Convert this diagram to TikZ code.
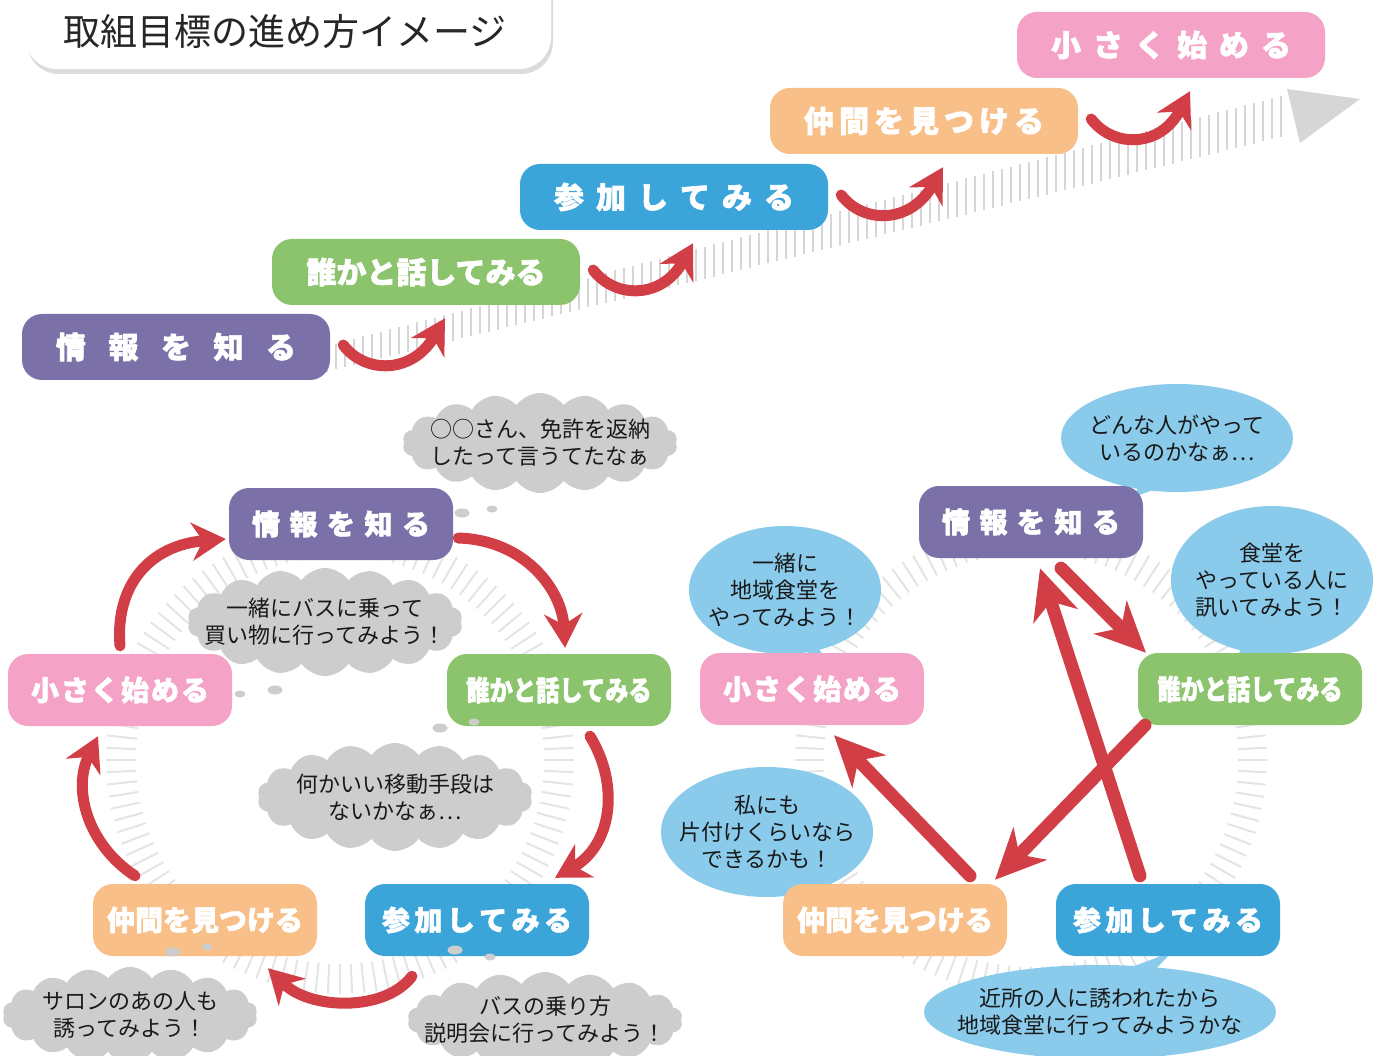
\documentclass[tikz,border=0pt]{standalone}
\usepackage{fontspec}
\usepackage{graphicx}
\setmainfont{Noto Sans CJK JP}[BoldFeatures={FakeBold=2}]
\usetikzlibrary{arrows.meta,shapes.geometric,shapes.symbols,calc,shadows}
\definecolor{cpurple}{HTML}{7B70A8}
\definecolor{cgreen}{HTML}{8BC46C}
\definecolor{cblue}{HTML}{3BA5DA}
\definecolor{corange}{HTML}{F8BF88}
\definecolor{cpink}{HTML}{F4A3C6}
\definecolor{cred}{HTML}{D13E45}
\definecolor{cbubble}{HTML}{8ACBEB}
\definecolor{ccloud}{HTML}{CDCDCD}
\definecolor{chatch}{HTML}{D6D6D6}
\definecolor{cring}{HTML}{E4E4E4}
\tikzset{
 stepbox/.style={rounded corners=20pt, minimum width=308pt, minimum height=66pt, text=white, font=\fontsize{30}{32}\selectfont\bfseries, inner sep=0pt},
 cycbox/.style={rounded corners=20pt, minimum width=224pt, minimum height=72pt, text=white, font=\fontsize{28}{30}\selectfont\bfseries, inner sep=0pt},
 thought/.style={cloud, cloud puffs=18, cloud puff arc=110, cloud ignores aspect, fill=ccloud, inner sep=0pt},
 bubble/.style={ellipse, fill=cbubble, inner sep=0pt},
 saytext/.style={align=center, font=\fontsize{22}{27}\selectfont, inner sep=0pt, text=black!90},
 redarrow/.style={draw=cred, line width=11pt, line cap=round, -{Stealth[length=34pt,width=38pt,inset=11pt]}},
 strarrow/.style={draw=cred, line width=13pt, line cap=round, -{Stealth[length=50pt,width=46pt,inset=15pt]}},
 tdot/.style={ellipse, fill=ccloud, minimum width=15pt, minimum height=9pt, inner sep=0pt},
}
\begin{document}
\begin{tikzpicture}[x=1pt,y=-1pt]
\useasboundingbox (0,0) rectangle (1384,1056);
% ---------- title
\node[fill=white, rounded corners=32pt, minimum width=526pt, minimum height=110pt, inner sep=0pt,
      drop shadow={shadow xshift=2pt, shadow yshift=-5pt, fill=gray!55}] (titlebox) at (288,14) {};
\node[font=\fontsize{37}{40}\selectfont, text=black!85, inner sep=0pt] (title) at (285,31) {取組目標の進め方イメージ};
% ---------- top hatched band
\foreach \x in {300,309,...,1286} {
  \pgfmathsetmacro\yc{356-0.254*(\x-338)}
  \pgfmathsetmacro\hh{13+0.008*(\x-338)}
  \draw[chatch, line width=2.3pt] ({\x},{\yc-\hh}) -- ({\x},{\yc+\hh});
}
\fill[chatch] (1287,89) -- (1360,99) -- (1300,143) -- cycle;
% ---------- rings
\foreach \a in {0,3,...,357} {
  \draw[cring, line width=2pt] ($(340,760)+(\a:204)$) -- ($(340,760)+(\a:234)$);
  \draw[cring, line width=2pt] ($(1031,760)+(\a:207)$) -- ($(1031,760)+(\a:236)$);
}
% ---------- top staircase
\node[stepbox, fill=cpurple] (T1) at (176,347) {\makebox[240pt]{情\hfill 報\hfill を\hfill 知\hfill る}};
\node[stepbox, fill=cgreen]  (T2) at (426,272) {誰かと話してみる};
\node[stepbox, fill=cblue]   (T3) at (674,197) {\makebox[240pt]{参\hfill 加\hfill し\hfill て\hfill み\hfill る}};
\node[stepbox, fill=corange] (T4) at (924,121) {\makebox[240pt]{仲\hfill 間\hfill を\hfill 見\hfill つ\hfill け\hfill る}};
\node[stepbox, fill=cpink]   (T5) at (1171,45) {\makebox[240pt]{小\hfill さ\hfill く\hfill 始\hfill め\hfill る}};
\foreach \a/\b in {T1/T2,T2/T3,T3/T4,T4/T5}
  \draw[redarrow] ($(\a.east)+(13,-2)$) .. controls ($(\a.east)+(35,27)$) and ($(\a.east)+(82,27)$) .. ($(\b.south)+(19,13)$);
% ---------- left cycle: clouds
\node[thought, minimum width=275pt, minimum height=100pt] (C1) at (540,443) {};
\node[saytext] (C1t) at (C1) {○○さん、免許を返納\\したって言うてたなぁ};
\node[thought, minimum width=275pt, minimum height=108pt] (C2) at (325,622) {};
\node[saytext] (C2t) at (C2) {一緒にバスに乗って\\買い物に行ってみよう！};
\node[thought, minimum width=275pt, minimum height=108pt] (C3) at (395,797) {};
\node[saytext] (C3t) at (C3) {何かいい移動手段は\\ないかなぁ…};
\node[thought, minimum width=255pt, minimum height=96pt] (C4) at (130,1015) {};
\node[saytext] (C4t) at (C4) {サロンのあの人も\\誘ってみよう！};
\node[thought, minimum width=275pt, minimum height=96pt] (C5) at (545,1020) {};
\node[saytext] (C5t) at (C5) {バスの乗り方\\説明会に行ってみよう！};
% ---------- right cycle: bubbles
\fill[cbubble] (1145,470) -- (1134,497) -- (1185,478) -- cycle;
\node[bubble, minimum width=232pt, minimum height=108pt] (B1) at (1177,438) {};
\node[saytext] (B1t) at (B1) {どんな人がやって\\いるのかなぁ…};
\fill[cbubble] (778,640) -- (826,660) -- (808,632) -- cycle;
\node[bubble, minimum width=192pt, minimum height=128pt] (B2) at (785,590) {};
\node[saytext] (B2t) at (B2) {一緒に\\地域食堂を\\やってみよう！};
\fill[cbubble] (1245,640) -- (1236,660) -- (1280,645) -- cycle;
\node[bubble, minimum width=202pt, minimum height=148pt] (B3) at (1272,580) {};
\node[saytext] (B3t) at (B3) {食堂を\\やっている人に\\訊いてみよう！};
\fill[cbubble] (768,880) -- (805,900) -- (800,878) -- cycle;
\node[bubble, minimum width=212pt, minimum height=130pt] (B4) at (767,832) {};
\node[saytext] (B4t) at (B4) {私にも\\片付けくらいなら\\できるかも！};
\fill[cbubble] (1110,975) -- (1172,952) -- (1150,975) -- cycle;
\node[bubble, minimum width=352pt, minimum height=94pt] (B5) at (1100,1012) {};
\node[saytext] (B5t) at (B5) {近所の人に誘われたから\\地域食堂に行ってみようかな};
% ---------- left cycle boxes
\node[cycbox, fill=cpurple] (L1) at (341,524) {\makebox[178pt]{情\hfill 報\hfill を\hfill 知\hfill る}};
\node[cycbox, fill=cgreen]  (L2) at (559,690) {\scalebox{0.83}[1]{誰かと話してみる}};
\node[cycbox, fill=cblue]   (L3) at (477,920) {\makebox[190pt]{参\hfill 加\hfill し\hfill て\hfill み\hfill る}};
\node[cycbox, fill=corange] (L4) at (205,920) {仲間を見つける};
\node[cycbox, fill=cpink]   (L5) at (120,690) {\makebox[178pt]{小\hfill さ\hfill く\hfill 始\hfill め\hfill る}};
% ---------- right cycle boxes
\node[cycbox, fill=cpurple] (R1) at (1031,522) {\makebox[178pt]{情\hfill 報\hfill を\hfill 知\hfill る}};
\node[cycbox, fill=cgreen]  (R2) at (1250,689) {\scalebox{0.83}[1]{誰かと話してみる}};
\node[cycbox, fill=cblue]   (R3) at (1168,920) {\makebox[190pt]{参\hfill 加\hfill し\hfill て\hfill み\hfill る}};
\node[cycbox, fill=corange] (R4) at (895,920) {仲間を見つける};
\node[cycbox, fill=cpink]   (R5) at (812,689) {\makebox[178pt]{小\hfill さ\hfill く\hfill 始\hfill め\hfill る}};
% ---------- thought dots
\node[tdot] (d1) at (462,513) {};
\node[tdot, minimum width=11pt, minimum height=7pt] (d2) at (492,509) {};
\node[tdot] (d3) at (275,690) {};
\node[tdot, minimum width=11pt, minimum height=7pt] (d4) at (240,694) {};
\node[tdot] (d5) at (440,728) {};
\node[tdot, minimum width=11pt, minimum height=7pt] (d6) at (474,722) {};
\node[tdot] (d7) at (173,952) {};
\node[tdot, minimum width=11pt, minimum height=7pt] (d8) at (207,947) {};
\node[tdot] (d9) at (455,950) {};
\node[tdot, minimum width=11pt, minimum height=7pt] (d10) at (490,957) {};
% ---------- left cycle arrows
\draw[redarrow] ($(L1.east)+(5,14)$) .. controls (525,540) and (562,590) .. ($(L2.north)+(6,-6)$);
\draw[redarrow] ($(L2.south)+(31,10)$) .. controls (620,785) and (612,845) .. ($(L3.north)+(78,-6)$);
\draw[redarrow] ($(L3.south)+(-65,20)$) .. controls (385,1012) and (310,1010) .. ($(L4.south)+(63,12)$);
\draw[redarrow] ($(L4.north)+(-70,-8)$) .. controls (88,845) and (72,790) .. ($(L5.south)+(-22,10)$);
\draw[redarrow] ($(L5.north)+(0,-8)$) .. controls (115,585) and (150,545) .. ($(L1.west)+(-3,15)$);
% ---------- right cycle arrows
\draw[strarrow] ($(R1.south)+(30,10)$) -- ($(R2.north)+(-104,0)$);
\draw[strarrow] ($(R3.north)+(-28,-8)$) -- ($(R1.south)+(9,10)$);
\draw[strarrow] ($(R2.south)+(-105,0)$) -- ($(R4.north)+(100,-4)$);
\draw[strarrow] ($(R4.north)+(75,-8)$) -- ($(R5.south)+(22,10)$);
\end{tikzpicture}
\end{document}
